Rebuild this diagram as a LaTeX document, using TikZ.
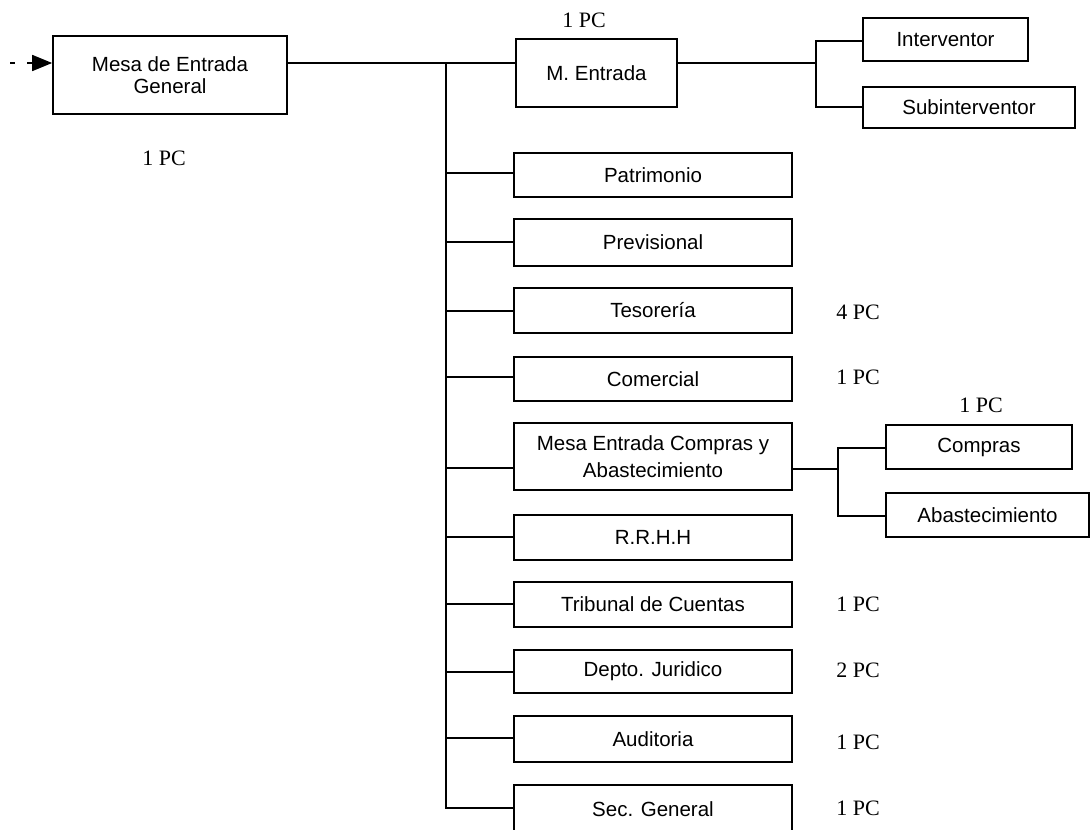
\documentclass[tikz,border=0pt]{standalone}
\usepackage{fontspec}
\setmainfont{Liberation Sans}
\newfontfamily\pcfont{Liberation Serif}
\usetikzlibrary{arrows.meta}
\begin{document}
\begin{tikzpicture}[x=1pt,y=-1pt,
  box/.style={draw, line width=1.7pt, inner sep=0pt, align=center,
    font=\fontsize{20.5}{21.5}\selectfont},
  conn/.style={line width=1.7pt},
  pc/.style={inner sep=0pt, font=\pcfont\fontsize{22}{24}\selectfont}]
\clip (0,0) rectangle (1091,829);
% left box
\node[box, minimum width=234pt, minimum height=78pt] (mesa) at (170,75) {Mesa de Entrada\\General};
\node[pc] (pc0) at (164,158) {1 PC};
\coordinate (start) at (10,63);
\draw[conn, dash pattern=on 5pt off 12pt, -{Triangle[length=20pt,width=16pt]}] (start) -- (mesa.west |- start);
% top row
\node[box, minimum width=161pt, minimum height=68pt] (ment) at (596.5,73) {M. Entrada};
\node[pc] (pc1) at (584,20) {1 PC};
\coordinate (j0) at (446,63);
\draw[conn] (mesa.east |- j0) -- (j0) -- (ment.west |- j0);
\node[box, minimum width=165pt, minimum height=43pt] (interv) at (945.5,39.5) {Interventor};
\node[box, minimum width=212pt, minimum height=41pt] (subint) at (969,107.5) {Subinterventor};
\coordinate (j1) at (816,63);
\coordinate (j1a) at (816,41);
\coordinate (j1b) at (816,107);
\draw[conn] (ment.east |- j1) -- (j1);
\draw[conn] (interv.west |- j1a) -- (j1a) -- (j1b) -- (subint.west |- j1b);
% middle column
\node[box, minimum width=278pt, minimum height=44pt] (patr) at (653,175) {Patrimonio};
\node[box, minimum width=278pt, minimum height=47pt] (prev) at (653,242.5) {Previsional};
\node[box, minimum width=278pt, minimum height=45pt] (teso) at (653,310.5) {Tesorería};
\node[box, minimum width=278pt, minimum height=44pt] (come) at (653,379) {Comercial};
\node[box, minimum width=278pt, minimum height=67pt, font=\fontsize{20.5}{27}\selectfont] (mec) at (653,456.5) {Mesa Entrada Compras y\\Abastecimiento};
\node[box, minimum width=278pt, minimum height=45pt] (rrhh) at (653,537.5) {R.R.H.H};
\node[box, minimum width=278pt, minimum height=45pt] (trib) at (653,604.5) {Tribunal de Cuentas};
\node[box, minimum width=278pt, minimum height=43pt] (depto) at (653,671.5) {Depto. Juridico};
\node[box, minimum width=278pt, minimum height=46pt] (audi) at (653,739) {Auditoria};
\node[box, minimum width=278pt, minimum height=48pt] (secg) at (653,809) {Sec. General};
\coordinate (t1) at (446,173);
\coordinate (t2) at (446,242);
\coordinate (t3) at (446,311);
\coordinate (t4) at (446,377);
\coordinate (t5) at (446,468);
\coordinate (t6) at (446,537);
\coordinate (t7) at (446,604);
\coordinate (t8) at (446,672);
\coordinate (t9) at (446,738);
\coordinate (t10) at (446,808);
\draw[conn] (j0) -- (t10) -- (secg.west |- t10);
\draw[conn] (t1) -- (patr.west |- t1);
\draw[conn] (t2) -- (prev.west |- t2);
\draw[conn] (t3) -- (teso.west |- t3);
\draw[conn] (t4) -- (come.west |- t4);
\draw[conn] (t5) -- (mec.west |- t5);
\draw[conn] (t6) -- (rrhh.west |- t6);
\draw[conn] (t7) -- (trib.west |- t7);
\draw[conn] (t8) -- (depto.west |- t8);
\draw[conn] (t9) -- (audi.west |- t9);
% compras branch
\node[box, minimum width=186pt, minimum height=44pt] (comp) at (979,447) {Compras};
\node[box, minimum width=203pt, minimum height=44pt] (abas) at (987.5,515) {Abastecimiento};
\coordinate (j2) at (838,469);
\coordinate (j2a) at (838,448);
\coordinate (j2b) at (838,516);
\draw[conn] (mec.east |- j2) -- (j2);
\draw[conn] (comp.west |- j2a) -- (j2a) -- (j2b) -- (abas.west |- j2b);
\node[pc] (pc2) at (981,405) {1 PC};
% PC labels
\node[pc] (pc3) at (858,312) {4 PC};
\node[pc] (pc4) at (858,377) {1 PC};
\node[pc] (pc5) at (858,604) {1 PC};
\node[pc] (pc6) at (858,670) {2 PC};
\node[pc] (pc7) at (858,742) {1 PC};
\node[pc] (pc8) at (858,808) {1 PC};
\end{tikzpicture}
\end{document}
